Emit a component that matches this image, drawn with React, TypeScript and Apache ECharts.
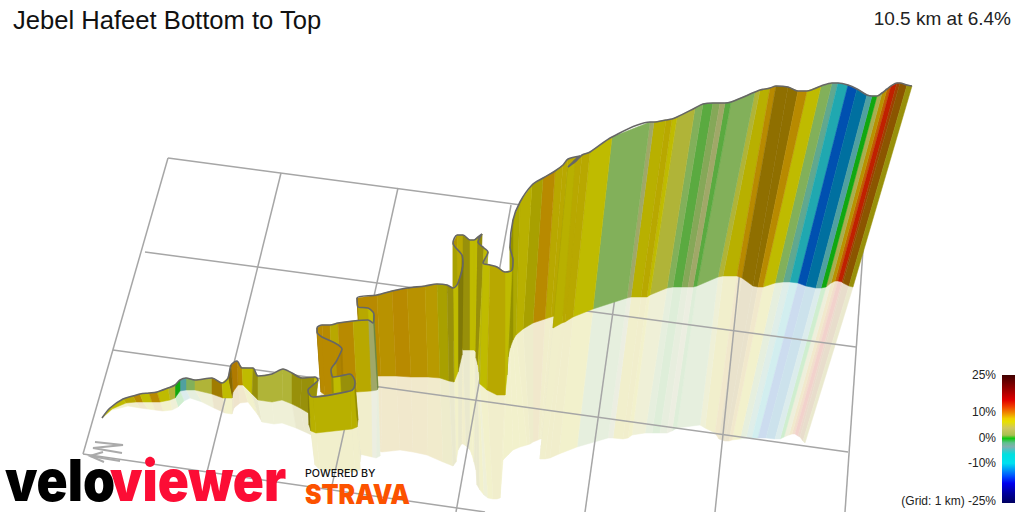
import React, { useEffect, useRef } from 'react';
import * as echarts from 'echarts';

const titleText = 'Jebel Hafeet Bottom to Top';
const summaryText = '10.5 km at 6.4%';

// ribbon stations along the road in page pixels
const topX = [
  102, 110, 123, 133, 140, 149, 157, 168, 175, 180,
  186, 195, 212, 222, 228, 231, 237, 242, 253, 258,
  272, 283, 292, 302, 315, 318, 313, 308, 309, 313,
  350, 354, 355, 350, 340, 333, 331, 336, 340, 342,
  335, 322, 317, 317, 322, 330, 338, 353, 368, 373,
  374, 373, 368, 358, 357, 377, 392, 407, 425, 437,
  447, 453, 458, 463, 462, 453, 457, 463, 470, 474,
  478, 482, 478, 484, 488, 483, 490, 497, 505, 512,
  513, 510, 513, 520, 532, 543, 555, 563, 568, 580,
  576, 568, 575, 582, 590, 612, 650, 654, 666, 672,
  677, 695, 703, 713, 720, 725, 731, 755, 760, 770,
  776, 788, 798, 807, 821, 832, 838, 848, 857, 867,
  872, 877, 882, 887, 891, 897, 900, 907, 912,
];
const topY = [
  418, 408, 399, 396, 394, 393, 392, 388, 385, 380,
  378, 380, 378, 383, 378, 365, 361, 368, 368, 376,
  374, 369, 373, 378, 377, 380, 385, 390, 394, 397,
  391, 388, 382, 374, 376, 377, 370, 362, 354, 349,
  343, 337, 332, 328, 325, 325, 323, 321, 320, 323,
  315, 312, 308, 307, 298, 295, 291, 288, 286, 284,
  285, 288, 283, 263, 255, 243, 235, 235, 240, 240,
  237, 234, 242, 248, 252, 263, 265, 267, 272, 270,
  260, 247, 220, 202, 185, 178, 171, 165, 159, 156,
  159, 167, 162, 155, 152, 137, 122, 122, 120, 119,
  117, 108, 104, 103, 103, 103, 102, 92, 90, 88,
  86, 87, 91, 91, 86, 83, 83, 85, 89, 95,
  96, 96, 93, 89, 86, 83, 83, 85, 86,
];
const baseX = [
  102, 112, 126, 136, 143, 152, 160, 170, 175, 180,
  186, 195, 212, 223, 232, 233, 238, 243, 252, 258,
  272, 282, 292, 300, 310, 314, 310, 309, 311, 316,
  352, 357, 358, 352, 342, 334, 333, 338, 343, 344,
  338, 325, 321, 321, 326, 333, 341, 357, 371, 377,
  378, 376, 372, 362, 361, 381, 396, 411, 428, 440,
  449, 454, 458, 462, 461, 453, 458, 463, 470, 474,
  476, 478, 476, 478, 479, 480, 487, 497, 505, 507,
  508, 510, 513, 516, 523, 533, 545, 551, 555, 568,
  562, 553, 562, 565, 573, 593, 627, 631, 641, 647,
  650, 667, 673, 682, 688, 693, 697, 718, 723, 737,
  742, 753, 758, 763, 775, 783, 790, 798, 806, 816,
  821, 826, 831, 835, 838, 842, 843, 849, 853,
];
const baseY = [
  418, 409, 403, 402, 402, 402, 402, 400, 398, 391,
  390, 390, 394, 398, 398, 392, 385, 385, 394, 400,
  402, 400, 404, 408, 414, 416, 418, 425, 431, 433,
  429, 427, 420, 410, 412, 415, 412, 408, 405, 402,
  400, 395, 392, 388, 385, 386, 386, 392, 391, 390,
  388, 380, 378, 377, 376, 376, 376, 377, 377, 378,
  381, 382, 372, 355, 348, 340, 340, 350, 350, 350,
  352, 355, 358, 365, 372, 384, 390, 395, 395, 375,
  357, 348, 340, 335, 329, 323, 319, 317, 316, 312,
  316, 328, 323, 322, 317, 309, 298, 297, 297, 297,
  295, 288, 287, 287, 287, 287, 286, 277, 276, 276,
  278, 286, 287, 287, 283, 282, 282, 283, 286, 288,
  288, 287, 283, 281, 281, 282, 283, 286, 287,
];
const floorX = [
  102, 112, 128, 140, 148, 155, 163, 172, 178, 184,
  190, 202, 214, 225, 232, 234, 240, 248, 258, 262,
  274, 282, 296, 305, 318, 322, 318, 314, 315, 320,
  355, 360, 360, 361, 352, 345, 340, 342, 346, 346,
  340, 328, 325, 325, 328, 336, 344, 359, 372, 376,
  380, 378, 375, 366, 365, 382, 400, 413, 427, 443,
  453, 456, 458, 461, 461, 460, 463, 466, 470, 472,
  474, 476, 477, 480, 484, 488, 493, 497, 500, 503,
  508, 513, 520, 527, 530, 533, 538, 540, 541, 545,
  541, 540, 545, 550, 559, 577, 608, 613, 623, 628,
  632, 645, 652, 660, 667, 672, 677, 700, 705, 715,
  719, 725, 729, 732, 740, 746, 752, 758, 766, 775,
  780, 784, 789, 792, 795, 798, 800, 803, 805,
];
const floorY = [
  418, 410, 406, 408, 409, 410, 411, 410, 407, 401,
  398, 402, 408, 413, 414, 408, 403, 402, 415, 422,
  424, 423, 428, 432, 438, 440, 441, 444, 465, 470,
  472, 470, 462, 455, 450, 445, 440, 440, 440, 440,
  440, 440, 440, 440, 440, 440, 442, 454, 457, 458,
  456, 452, 450, 448, 448, 452, 450, 452, 455, 462,
  466, 462, 450, 445, 444, 444, 444, 446, 450, 455,
  462, 470, 485, 490, 495, 498, 499, 499, 498, 460,
  455, 450, 447, 445, 444, 442, 440, 439, 439, 437,
  447, 459, 459, 458, 454, 447, 438, 438, 439, 438,
  435, 433, 433, 433, 433, 431, 428, 425, 428, 433,
  439, 441, 441, 440, 439, 438, 438, 438, 438, 439,
  439, 437, 435, 434, 434, 436, 437, 441, 443,
];
// gradient (%) of each stretch between a station and the next one
const grades = [
  5, 5, 6, 8, 5, 8, 5, 3, 0, -6,
  0.8, 3, 9, 5, 9, 10, 8, 5, 5.5, 3,
  3, 3, 5.5, 5.5, 5, 5.5, 5.5, 5.5, 5.2, 5.2,
  5.2, 5.2, 5.5, 5.5, 5, 6, 7, 8, 8, 8,
  8, 8, 8, 8, 8, 6, 8, 6, 2, 1.5,
  4, 5, 6, 8, 8, 7.5, 8, 7.5, 7, 5.8,
  5.5, 5, 5.5, 5.5, 5.8, 7, 6, 5.5, 5, 5,
  5.5, 5.5, 5.5, 5, 3, 5, 6, 6, 5, 5,
  5, 5, 5, 5.2, 5.8, 8, 6, 6, 6, 6,
  5.5, 5.2, 6, 6, 5, 0.8, 2, 5.2, 6, 5,
  3, 0.8, 0.4, 1.5, 2, 0.4, 0.8, 3, 5.2, 8,
  9.5, 9.5, 8, 5, 0.8, -3, -9, -16, -13, -6,
  0, 2.5, 7.5, 12.5, 15, 12, 11, 5.5,
];

// map lines: far edge to near edge, then left to right
const gridFromX = [168, 145, 113, 83, 168, 281, 398, 511, 623, 741, 863];
const gridFromY = [158, 252, 350, 454, 158, 173, 188, 205, 240, 260, 250];
const gridToX = [860, 856, 848, 485, 83, 207, 331, 456, 585, 715, 845];
const gridToY = [250, 347, 452, 512, 454, 472, 490, 512, 512, 512, 512];

const rampGrades = [-25, -16, -13, -9, -6, -3, 0, 0.4, 0.8, 1.5, 2, 3, 4, 5, 5.2, 5.5, 5.8, 6, 7, 8, 9, 9.5, 10, 11, 12, 12.5, 15, 20, 25];
const rampColors = [
  '#000060', '#0050b0', '#0070a0', '#20a8b0', '#50a0a0', '#60a890', '#10a810', '#5aaa40', '#82b05a', '#85a858',
  '#a0a868', '#b0b438', '#b8b81a', '#bfbb00', '#b8b000', '#98900a', '#a8a000', '#b8a800', '#b89a00', '#b88a00',
  '#a07c00', '#8f6f00', '#b07a00', '#8b5500', '#a04000', '#c06000', '#c02000', '#800000', '#400000',
];

const scaleLabels = ['25%', '10%', '0%', '-10%', '(Grid: 1 km) -25%'];
const scaleLabelY = [375, 412, 438, 463, 501];
const scaleOffsets = [0, 0.1, 0.195, 0.247, 0.29, 0.34, 0.365, 0.415, 0.47, 0.495, 0.53, 0.56, 0.62, 0.69, 0.79, 0.845, 0.92, 1];
const scaleColors = [
  '#400000', '#900000', '#e00000', '#f04000', '#f08000', '#f0d000', '#e8e000', '#d0c860', '#a8c050',
  '#10c810', '#60c090', '#80b0b0', '#00e0e0', '#00e0f0', '#0050ff', '#0000f0', '#0000a0', '#000060',
];

const toRgb = (hex: string) => [1, 3, 5].map(i => parseInt(hex.slice(i, i + 2), 16));
const gradeRgb = (grade: number) => {
  let i = 0;
  while (i < rampGrades.length - 2 && grade > rampGrades[i + 1]) i++;
  const t = Math.min(1, Math.max(0, (grade - rampGrades[i]) / (rampGrades[i + 1] - rampGrades[i])));
  const a = toRgb(rampColors[i]);
  const b = toRgb(rampColors[i + 1]);
  return a.map((v, k) => v + (b[k] - v) * t);
};
const css = (rgb: number[]) => `rgb(${rgb.map(v => Math.round(v)).join(',')})`;

// stretches that run across the view are lit, folds turn away and go dark
const lightOf = (i: number) => {
  const dx = topX[i + 1] - topX[i];
  const dy = topY[i + 1] - topY[i];
  const across = Math.abs(dx) / (Math.hypot(dx, dy) || 1);
  return 0.72 + 0.28 * Math.min(1, across / 0.55);
};

// nearer stretches have a lower base on the page, so they are painted last
const stretches = grades.map((_, i) => i).sort((a, b) => baseY[a] + baseY[a + 1] - baseY[b] - baseY[b + 1]);

const App: React.FC = () => {
  const chartRef = useRef<HTMLDivElement>(null);

  useEffect(() => {
    if (!chartRef.current) return;
    document.body.style.margin = '0';
    const chart = echarts.init(chartRef.current, undefined, { renderer: 'svg' });

    const renderWall = (params: any, api: any) => {
      const i = api.value(0);
      const pts = [
        api.coord([topX[i], topY[i]]),
        api.coord([topX[i + 1], topY[i + 1]]),
        api.coord([baseX[i + 1], baseY[i + 1]]),
        api.coord([baseX[i], baseY[i]]),
      ];
      const fill = css(gradeRgb(grades[i]).map(v => v * lightOf(i)));
      return { type: 'polygon', shape: { points: pts }, style: { fill, stroke: fill, lineWidth: 0.5 } };
    };

    const renderReflection = (params: any, api: any) => {
      const i = api.value(0);
      const pts = [
        api.coord([baseX[i], baseY[i]]),
        api.coord([baseX[i + 1], baseY[i + 1]]),
        api.coord([floorX[i + 1], floorY[i + 1]]),
        api.coord([floorX[i], floorY[i]]),
      ];
      const fill = css(gradeRgb(grades[i]).map(v => v * 0.2 + 255 * 0.8));
      return { type: 'polygon', shape: { points: pts }, style: { fill, stroke: fill, lineWidth: 0.5 } };
    };

    const renderGridLine = (params: any, api: any) => {
      const i = api.value(0);
      const a = api.coord([gridFromX[i], gridFromY[i]]);
      const b = api.coord([gridToX[i], gridToY[i]]);
      return {
        type: 'line',
        shape: { x1: a[0], y1: a[1], x2: b[0], y2: b[1] },
        style: { stroke: '#a6a6a6', lineWidth: 1.5 },
      };
    };

    const labelFont = 'Arial, "Liberation Sans", sans-serif';
    const logoFont = 'Inter, Roboto, sans-serif';

    const option = {
      animation: false,
      tooltip: { show: false },
      title: [
        {
          text: titleText,
          left: 8,
          top: 2,
          textStyle: { fontFamily: labelFont, fontSize: 25.6, fontWeight: 'normal', color: '#111' },
        },
        {
          text: summaryText,
          right: 8,
          top: 4,
          textStyle: { fontFamily: labelFont, fontSize: 19, fontWeight: 'normal', color: '#222' },
        },
      ],
      grid: { left: 0, right: 0, top: 0, bottom: 0 },
      xAxis: { type: 'value', min: 0, max: 1024, show: false },
      yAxis: { type: 'value', min: 0, max: 512, inverse: true, show: false },
      series: [
        {
          type: 'custom',
          z: 1,
          clip: false,
          silent: true,
          renderItem: renderReflection,
          data: stretches.map(i => [i]),
          encode: { x: 0 },
        },
        {
          type: 'custom',
          z: 2,
          clip: false,
          silent: true,
          renderItem: renderGridLine,
          data: gridFromX.map((_, i) => [i]),
          encode: { x: 0 },
        },
        {
          type: 'custom',
          z: 3,
          clip: false,
          silent: true,
          renderItem: renderWall,
          data: stretches.map(i => [i]),
          encode: { x: 0 },
        },
        {
          type: 'line',
          z: 4,
          silent: true,
          showSymbol: false,
          smooth: 0.3,
          lineStyle: { color: '#666666', width: 1.6 },
          data: topX.map((x, i) => [x, topY[i]]),
        },
      ],
      graphic: [
        {
          type: 'rect',
          z: 10,
          shape: { x: 1002, y: 375, width: 13, height: 128 },
          style: {
            fill: new echarts.graphic.LinearGradient(0, 0, 0, 1, scaleOffsets.map((offset, i) => ({ offset, color: scaleColors[i] }))),
          },
        },
        ...scaleLabels.map((text, i) => ({
          type: 'text',
          z: 10,
          x: 996,
          y: scaleLabelY[i],
          style: { text, fontFamily: labelFont, fontSize: 12, fill: '#222', align: 'right', verticalAlign: 'middle' },
        })),
        // north marker
        { type: 'polyline', z: 5, shape: { points: [[95, 442], [123, 445], [93, 448], [122, 453]] }, style: { stroke: '#aaaaaa', lineWidth: 2, fill: 'none' } },
        { type: 'polyline', z: 5, shape: { points: [[120, 461], [90, 456]] }, style: { stroke: '#aaaaaa', lineWidth: 2, fill: 'none' } },
        { type: 'polyline', z: 5, shape: { points: [[103, 452], [90, 456], [104, 462]] }, style: { stroke: '#aaaaaa', lineWidth: 2, fill: 'none' } },
        // logos
        {
          type: 'text', z: 20, x: 5, y: 480, scaleX: 1.07, scaleY: 1.2,
          style: { text: 'velo', fontFamily: logoFont, fontWeight: 900, fontSize: 48, fill: '#000', verticalAlign: 'middle' },
        },
        {
          type: 'text', z: 21, x: 110, y: 480, scaleX: 1.07, scaleY: 1.2,
          style: { text: 'viewer', fontFamily: logoFont, fontWeight: 900, fontSize: 48, fill: '#fc0d35', verticalAlign: 'middle' },
        },
        {
          type: 'text', z: 20, x: 305, y: 473, scaleX: 1.07,
          style: { text: 'POWERED BY', fontFamily: logoFont, fontWeight: 500, fontSize: 10, fill: '#111', verticalAlign: 'middle' },
        },
        {
          type: 'text', z: 20, x: 305, y: 494, scaleX: 0.92,
          style: { text: 'STRAVA', fontFamily: logoFont, fontWeight: 900, fontSize: 27, fill: '#fc5200', verticalAlign: 'middle' },
        },
      ],
    };

    chart.setOption(option);
    return () => chart.dispose();
  }, []);

  return <div ref={chartRef} style={{ width: 1024, height: 512, background: '#fff' }} />;
};

export default App;
